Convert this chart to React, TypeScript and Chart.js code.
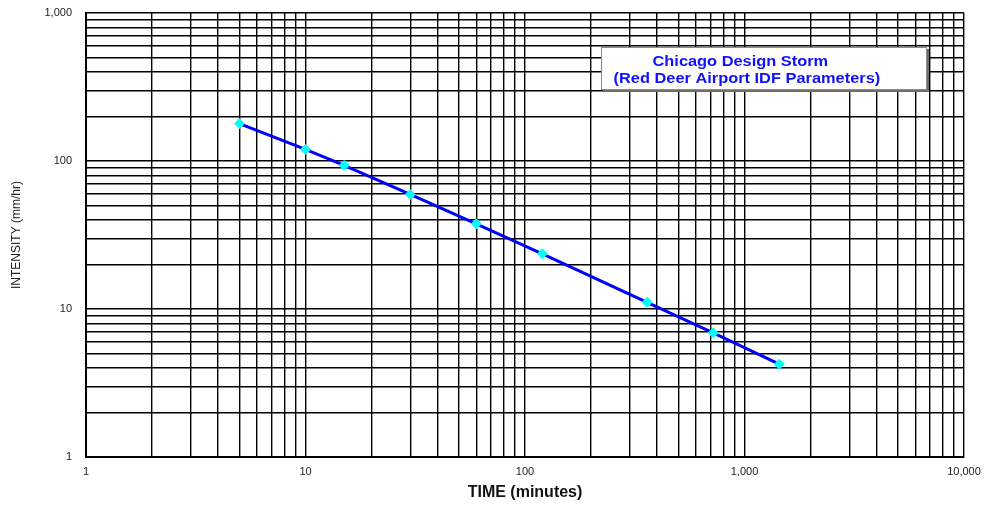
import React, { useEffect, useRef } from "react";
import { Chart, registerables } from "chart.js";

Chart.register(...registerables);

// ---- data ----
const TIME_MIN = [5, 10, 15, 30, 60, 120, 360, 720, 1440];
const INTENSITY = [178.9, 119.8, 93.4, 59.4, 37.6, 23.6, 11.1, 6.9, 4.24];

// ---- axis ticks ----
const X_DECADES = [1, 10, 100, 1000, 10000];
const X_LABELS = ["1", "10", "100", "1,000", "10,000"];
const Y_DECADES = [1, 10, 100, 1000];
const Y_LABELS = ["1", "10", "100", "1,000"];
const MINOR_MULT = [1, 2, 3, 4, 5, 6, 7, 8, 9];

const LEGEND_LINES = ["Chicago Design Storm", "(Red Deer Airport IDF Parameters)"];
const X_TITLE = "TIME (minutes)";
const Y_TITLE = "INTENSITY (mm/hr)";

const FONT = '"Liberation Sans", Arial, Helvetica, sans-serif';

function gridValues(decades: number[]): number[] {
  const out: number[] = [];
  for (let i = 0; i < decades.length - 1; i++) {
    for (const m of MINOR_MULT) out.push(decades[i] * m);
  }
  out.push(decades[decades.length - 1]);
  return out;
}

function labelFor(v: number, decades: number[], labels: string[]): string {
  const idx = decades.findIndex((d) => Math.abs(d - v) < 1e-9);
  return idx >= 0 ? labels[idx] : "";
}

const titleBoxPlugin = {
  id: "titleBox",
  afterDraw(chart: any) {
    const ctx = chart.ctx as CanvasRenderingContext2D;
    const left = 601, top = 47, w = 326, h = 43;
    ctx.save();
    ctx.fillStyle = "#6e6e6e";
    ctx.fillRect(left + 2, top + 2, w, h);
    ctx.fillStyle = "#ffffff";
    ctx.fillRect(left, top, w, h);
    ctx.strokeStyle = "#8a8a8a";
    ctx.lineWidth = 1;
    ctx.strokeRect(left + 0.5, top + 0.5, w - 1, h - 1);
    ctx.fillStyle = "#1010ff";
    ctx.font = "bold 14px " + FONT;
    ctx.textBaseline = "alphabetic";
    ctx.textAlign = "left";
    const pos = [
      [652.5, 65.5],
      [613.5, 82.5],
    ];
    LEGEND_LINES.forEach((t, i) => {
      ctx.save();
      ctx.translate(pos[i][0], pos[i][1]);
      ctx.scale(1.17, 1);
      ctx.fillText(t, 0, 0);
      ctx.restore();
    });
    ctx.restore();
  },
};

export default function App() {
  const ref = useRef<HTMLCanvasElement | null>(null);

  useEffect(() => {
    if (!ref.current) return;
    const chart = new Chart(ref.current, {
      type: "line",
      data: {
        datasets: [
          {
            data: TIME_MIN.map((t, i) => ({ x: t, y: INTENSITY[i] })),
            borderColor: "#0000ff",
            borderWidth: 3,
            pointStyle: "rectRot",
            pointRadius: 5,
            pointBackgroundColor: "#00ffff",
            pointBorderColor: "#00ffff",
            pointBorderWidth: 1,
            tension: 0,
            fill: false,
          },
        ],
      },
      options: {
        responsive: false,
        animation: false,
        layout: { padding: { left: 0, top: 13, right: 23, bottom: 0 } },
        plugins: {
          legend: { display: false },
          tooltip: { enabled: false },
        },
        scales: {
          x: {
            type: "logarithmic",
            min: 1,
            max: 10000,
            afterBuildTicks: (scale: any) => {
              scale.ticks = gridValues(X_DECADES).map((v) => ({ value: v }));
            },
            afterFit: (scale: any) => {
              scale.height = 48;
              scale.paddingLeft = 0;
              scale.paddingRight = 0;
            },
            ticks: {
              autoSkip: false,
              maxRotation: 0,
              padding: 8,
              color: "#222",
              font: { family: FONT, size: 11 },
              callback: (v: any) => labelFor(Number(v), X_DECADES, X_LABELS),
            },
            grid: { color: "#000", lineWidth: 1.4, drawTicks: false },
            border: { color: "#000", width: 2 },
            title: {
              display: true,
              text: X_TITLE,
              color: "#111",
              font: { family: FONT, size: 16, weight: "bold" },
              padding: { top: 0, bottom: 3 },
            },
          },
          y: {
            type: "logarithmic",
            min: 1,
            max: 1000,
            afterBuildTicks: (scale: any) => {
              scale.ticks = gridValues(Y_DECADES).map((v) => ({ value: v }));
            },
            afterFit: (scale: any) => {
              scale.width = 86;
              scale.paddingTop = 0;
              scale.paddingBottom = 0;
            },
            ticks: {
              autoSkip: false,
              padding: 14,
              color: "#222",
              font: { family: FONT, size: 11 },
              callback: (v: any) => labelFor(Number(v), Y_DECADES, Y_LABELS),
            },
            grid: { color: "#000", lineWidth: 1.4, drawTicks: false },
            border: { color: "#000", width: 2 },
            title: {
              display: true,
              text: Y_TITLE,
              color: "#222",
              font: { family: FONT, size: 12 },
              padding: { top: 9, bottom: 0 },
            },
          },
        },
      },
      plugins: [titleBoxPlugin],
    });
    return () => chart.destroy();
  }, []);

  return (
    <div style={{ position: "fixed", left: 0, top: 0, width: 987, height: 505, background: "#fff" }}>
      <canvas ref={ref} width={987} height={505} />
    </div>
  );
}
